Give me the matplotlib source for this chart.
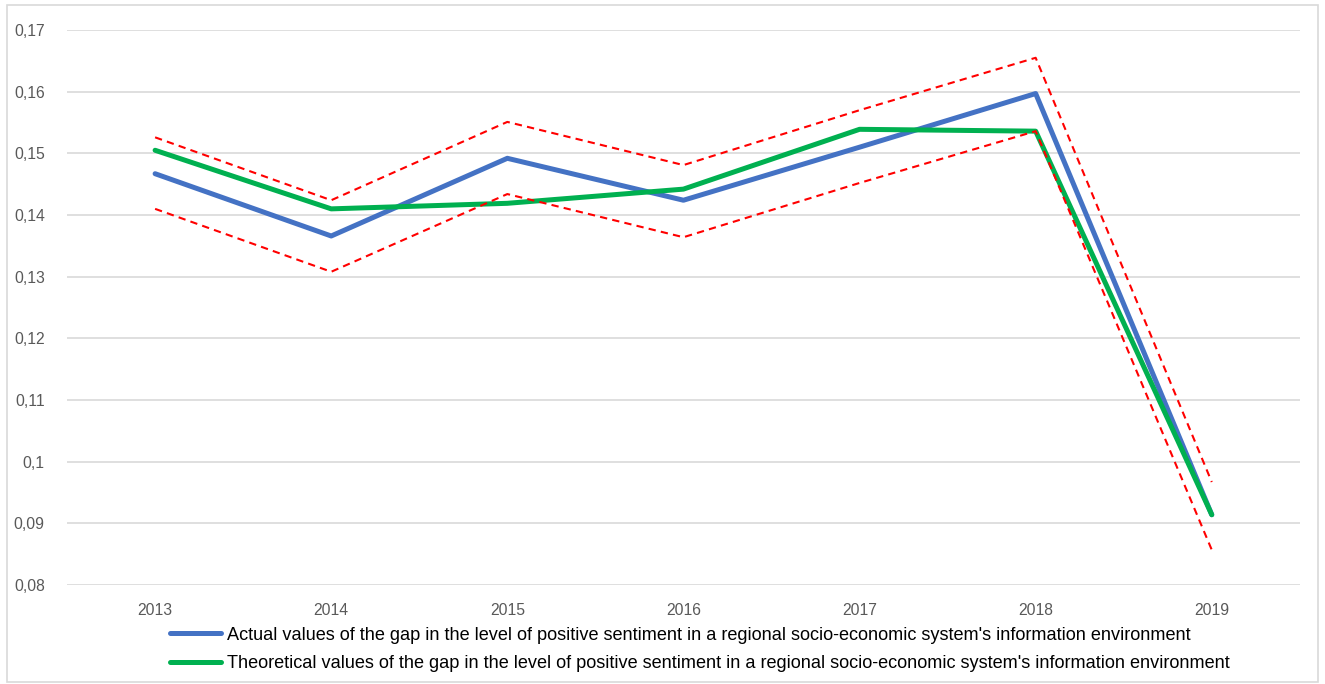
import matplotlib
matplotlib.use("Agg")
import matplotlib.pyplot as plt
from matplotlib.patches import Rectangle
from matplotlib.ticker import FuncFormatter

plt.rcParams['font.family'] = ['Liberation Sans', 'DejaVu Sans']

years = ['2013', '2014', '2015', '2016', '2017', '2018', '2019']
actual = [0.1467, 0.1366, 0.1492, 0.1424, 0.1510, 0.1597, 0.0914]
theoretical = [0.1505, 0.1410, 0.1419, 0.1442, 0.1539, 0.1536, 0.0914]
upper = [0.1526, 0.1424, 0.1551, 0.1481, 0.1570, 0.1655, 0.0967]
lower = [0.1410, 0.1308, 0.1434, 0.1364, 0.1452, 0.1536, 0.0857]

lab_actual = "Actual values of the gap in the level of positive sentiment in a regional socio-economic system's information environment"
lab_theor = "Theoretical values of the gap in the level of positive sentiment in a regional socio-economic system's information environment"

fig = plt.figure(figsize=(13.25, 6.84), dpi=100)
ax = fig.add_axes([0.0506, 0.1447, 0.9304, 0.8114])

x = range(len(years))
ax.plot(x, upper, color='#FF0000', lw=1.5, dashes=(3.5, 2.5), zorder=3)
ax.plot(x, lower, color='#FF0000', lw=1.5, dashes=(3.5, 2.5), zorder=3)
l1, = ax.plot(x, actual, color='#4472C4', lw=3.6, solid_capstyle='round', zorder=2)
l2, = ax.plot(x, theoretical, color='#00B050', lw=3.6, solid_capstyle='round', zorder=2.5)

ax.set_xlim(-0.5, len(years) - 0.5)
ax.set_ylim(0.08, 0.17)
ax.set_xticks(list(x))
ax.set_xticklabels(years)
ax.set_yticks([0.08 + 0.01 * i for i in range(10)])
ax.yaxis.set_major_formatter(FuncFormatter(lambda v, p: ('%g' % round(v, 2)).replace('.', ',')))
ax.tick_params(length=0, labelsize=11.3, colors='#595959', pad=13)
ax.tick_params(axis='y', pad=16)
for s in ax.spines.values():
    s.set_visible(False)
ax.grid(axis='y', color='#D9D9D9', lw=1.2)
ax.set_axisbelow(True)

fig.legend([l1, l2], [lab_actual, lab_theor], loc='upper left',
           bbox_to_anchor=(0.128, 0.084), frameon=False, fontsize=13.1,
           handlelength=2.85, handletextpad=0.3, labelspacing=0.65,
           borderpad=0, borderaxespad=0)

fig.patches.append(Rectangle((0.005, 0.003), 0.99, 0.99, transform=fig.transFigure,
                             fill=False, edgecolor='#D9D9D9', lw=1.2))

fig.savefig('out.png', dpi=100)
